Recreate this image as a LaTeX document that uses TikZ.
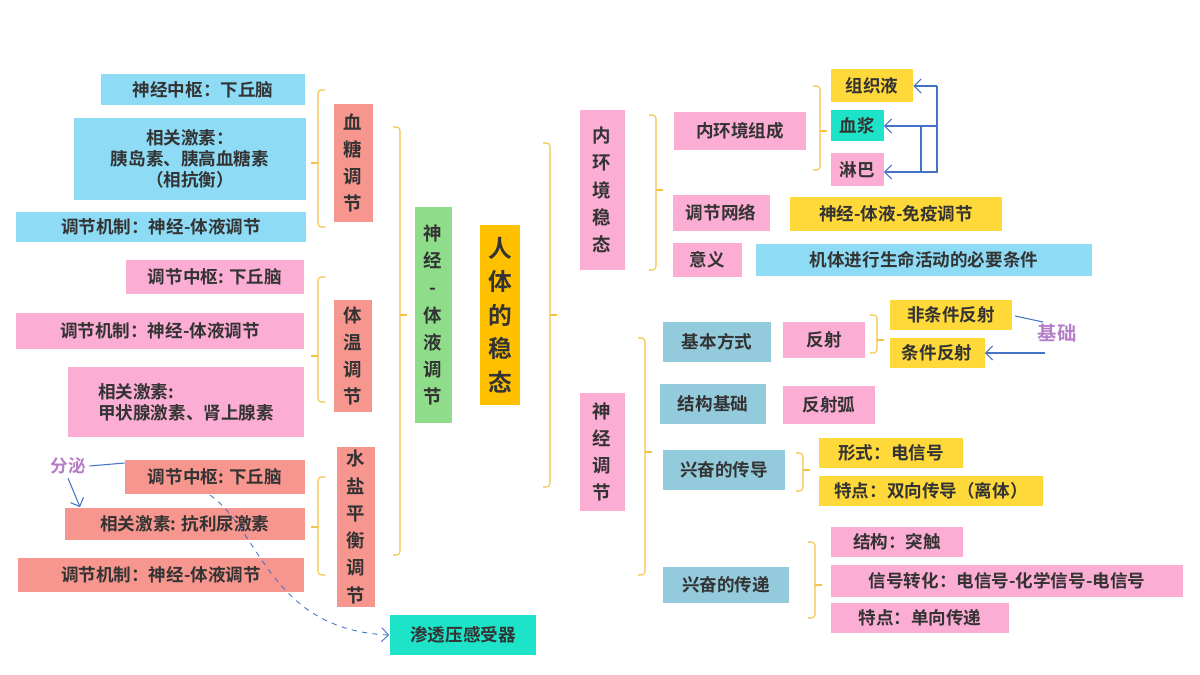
\documentclass[tikz,border=0pt]{standalone}
\usepackage{fontspec}
\setmainfont{Noto Sans CJK SC}[BoldFont={Noto Sans CJK SC Bold}]
\usetikzlibrary{arrows.meta}
\definecolor{cpink}{HTML}{FBADD3}
\definecolor{csalmon}{HTML}{F7968E}
\definecolor{cblue}{HTML}{8EDBF6}
\definecolor{cyellow}{HTML}{FFD83A}
\definecolor{cgreen}{HTML}{8FDC8A}
\definecolor{corange}{HTML}{FFC000}
\definecolor{cteal}{HTML}{1DE3C9}
\definecolor{csteel}{HTML}{93CBDD}
\definecolor{cbrace}{HTML}{F5C242}
\definecolor{carrow}{HTML}{4472C4}
\definecolor{cpurple}{HTML}{B57CC8}
\tikzstyle{box}=[inner sep=2pt,font=\fontsize{10}{12}\selectfont\bfseries,text=black!80]
\tikzstyle{vbox}=[box,align=center,font=\fontsize{10.5}{15.5}\selectfont\bfseries]
\tikzstyle{brace}=[draw=cbrace,line width=0.6pt,rounded corners=2pt]
\tikzstyle{line}=[draw=carrow,line width=0.6pt,-{Straight Barb[length=4pt]}]
\newcommand{\brkR}[4]{\draw[brace] (#1+7,#2) -- (#1,#2) -- (#1,#3) -- (#1+7,#3); \draw[brace] (#1,#4) -- (#1-7,#4);}
\newcommand{\brkL}[4]{\draw[brace] (#1-7,#2) -- (#1,#2) -- (#1,#3) -- (#1-7,#3); \draw[brace] (#1,#4) -- (#1+7,#4);}
\begin{document}
\begin{tikzpicture}[x=0.02cm,y=-0.02cm]
  \useasboundingbox (0,0) rectangle (1200,675);
  % centre
  \node[vbox,fill=corange,minimum width=0.8cm,minimum height=3.6cm,font=\fontsize{13.5}{19}\selectfont\bfseries] (body) at (500,315) {人\\体\\的\\稳\\态};
  \node[vbox,fill=cgreen,minimum width=0.74cm,minimum height=4.32cm] (humoral) at (433,315) {神\\经\\-\\体\\液\\调\\节};
  % left side
  \node[vbox,fill=csalmon,minimum width=0.78cm,minimum height=2.36cm] (sugar) at (353,163) {血\\糖\\调\\节};
  \node[vbox,fill=csalmon,minimum width=0.76cm,minimum height=2.24cm] (temp) at (353,356) {体\\温\\调\\节};
  \node[vbox,fill=csalmon,minimum width=0.76cm,minimum height=3.06cm] (water) at (356,527) {水\\盐\\平\\衡\\调\\节};
  \node[box,fill=cblue,minimum width=4.08cm,minimum height=0.62cm] (s1) at (203,90) {神经中枢：下丘脑};
  \node[box,fill=cblue,minimum width=4.66cm,minimum height=1.64cm,align=center] (s2) at (190,159) {相关激素：\\胰岛素、胰高血糖素\\（相抗衡）};
  \node[box,fill=cblue,minimum width=5.82cm,minimum height=0.6cm] (s3) at (161,227) {调节机制：神经-体液调节};
  \node[box,fill=cpink,minimum width=3.58cm,minimum height=0.7cm] (t1) at (215,277) {调节中枢: 下丘脑};
  \node[box,fill=cpink,minimum width=5.78cm,minimum height=0.72cm] (t2) at (160,331) {调节机制：神经-体液调节};
  \node[box,fill=cpink,minimum width=4.74cm,minimum height=1.4cm,align=left] (t3) at (186,402) {相关激素:\\甲状腺激素、肾上腺素};
  \node[box,fill=csalmon,minimum width=3.6cm,minimum height=0.7cm] (w1) at (215,477) {调节中枢: 下丘脑};
  \node[box,fill=csalmon,minimum width=4.8cm,minimum height=0.66cm] (w2) at (185,524) {相关激素: 抗利尿激素};
  \node[box,fill=csalmon,minimum width=5.74cm,minimum height=0.7cm] (w3) at (161,575) {调节机制：神经-体液调节};
  \node[box,fill=cteal,minimum width=2.94cm,minimum height=0.82cm] (osmo) at (463,635) {渗透压感受器};
  \node[box,text=cpurple] (secrete) at (68,466) {分泌};
  \draw[draw=carrow,line width=0.6pt] (w1.west |- 0,463) -- (secrete.east);
  \path[line] (secrete.south) -- (w2.north -| 80,0);
  \draw[draw=carrow,line width=0.5pt,dashed,-{Straight Barb[length=4pt]}] (210,495) .. controls (260,530) and (270,630) .. (osmo.west);
  \brkL{400}{127}{555}{315}
  \brkR{318}{90}{227}{163}
  \brkR{318}{277}{402}{356}
  \brkR{318}{477}{575}{527}
  % right side
  \node[vbox,fill=cpink,minimum width=0.9cm,minimum height=3.2cm] (inner) at (602,190) {内\\环\\境\\稳\\态};
  \node[vbox,fill=cpink,minimum width=0.9cm,minimum height=2.38cm] (nerve) at (602,452) {神\\经\\调\\节};
  \brkL{550}{143}{487}{315}
  \brkL{656}{115}{270}{190}
  \node[box,fill=cpink,minimum width=2.66cm,minimum height=0.76cm] (comp) at (740,131) {内环境组成};
  \node[box,fill=cpink,minimum width=1.94cm,minimum height=0.74cm] (net) at (721,213) {调节网络};
  \node[box,fill=cpink,minimum width=1.38cm,minimum height=0.7cm] (mean) at (707,260) {意义};
  \node[box,fill=cyellow,minimum width=1.64cm,minimum height=0.66cm] (tissue) at (872,86) {组织液};
  \node[box,fill=cteal,minimum width=1.06cm,minimum height=0.62cm] (plasma) at (857,126) {血浆};
  \node[box,fill=cpink,minimum width=1.06cm,minimum height=0.66cm] (lymph) at (857,170) {淋巴};
  \node[box,fill=cyellow,minimum width=4.24cm,minimum height=0.68cm] (immune) at (896,214) {神经-体液-免疫调节};
  \node[box,fill=cblue,minimum width=6.72cm,minimum height=0.66cm] (cond) at (924,260) {机体进行生命活动的必要条件};
  \brkL{820}{86}{170}{131}
  \draw[draw=carrow,line width=0.6pt] (937,86) -- (937,172) -- (921,172);
  \draw[draw=carrow,line width=0.6pt] (921,126) -- (921,172);
  \path[line] (937,86) -- (tissue.east);
  \path[line] (937,126) -- (plasma.east);
  \path[line] (921,172) -- (lymph.east |- 0,172);
  \node[box,fill=csteel,minimum width=2.18cm,minimum height=0.8cm] (mode) at (717,342) {基本方式};
  \node[box,fill=csteel,minimum width=2.14cm,minimum height=0.8cm] (struct) at (713,404) {结构基础};
  \node[box,fill=csteel,minimum width=2.46cm,minimum height=0.8cm] (conduct) at (724,470) {兴奋的传导};
  \node[box,fill=csteel,minimum width=2.52cm,minimum height=0.74cm] (transfer) at (726,585) {兴奋的传递};
  \brkL{645}{338}{575}{452}
  \node[box,fill=cpink,minimum width=1.64cm,minimum height=0.72cm] (reflex) at (824,340) {反射};
  \node[box,fill=cyellow,minimum width=2.44cm,minimum height=0.6cm] (uncond) at (951,315) {非条件反射};
  \node[box,fill=cyellow,minimum width=1.9cm,minimum height=0.6cm] (condref) at (937,353) {条件反射};
  \node[box,text=cpurple,font=\fontsize{11}{13}\selectfont\bfseries] (basis) at (1057,333) {基础};
  \draw[draw=carrow,line width=0.6pt] (1015,316) -- (1043,322);
  \path[line] (1045,353) -- (condref.east);
  \brkL{877}{315}{353}{340}
  \node[box,fill=cpink,minimum width=1.84cm,minimum height=0.76cm] (arc) at (829,405) {反射弧};
  \node[box,fill=cyellow,minimum width=2.9cm,minimum height=0.6cm] (form) at (891,453) {形式：电信号};
  \node[box,fill=cyellow,minimum width=4.48cm,minimum height=0.6cm] (feat1) at (931,491) {特点：双向传导（离体）};
  \brkL{803}{453}{491}{470}
  \node[box,fill=cpink,minimum width=2.66cm,minimum height=0.62cm] (syn) at (897,542) {结构：突触};
  \node[box,fill=cpink,minimum width=7.04cm,minimum height=0.64cm] (signal) at (1007,581) {信号转化：电信号-化学信号-电信号};
  \node[box,fill=cpink,minimum width=3.56cm,minimum height=0.6cm] (feat2) at (920,618) {特点：单向传递};
  \brkL{815}{542}{618}{585}
\end{tikzpicture}
\end{document}
